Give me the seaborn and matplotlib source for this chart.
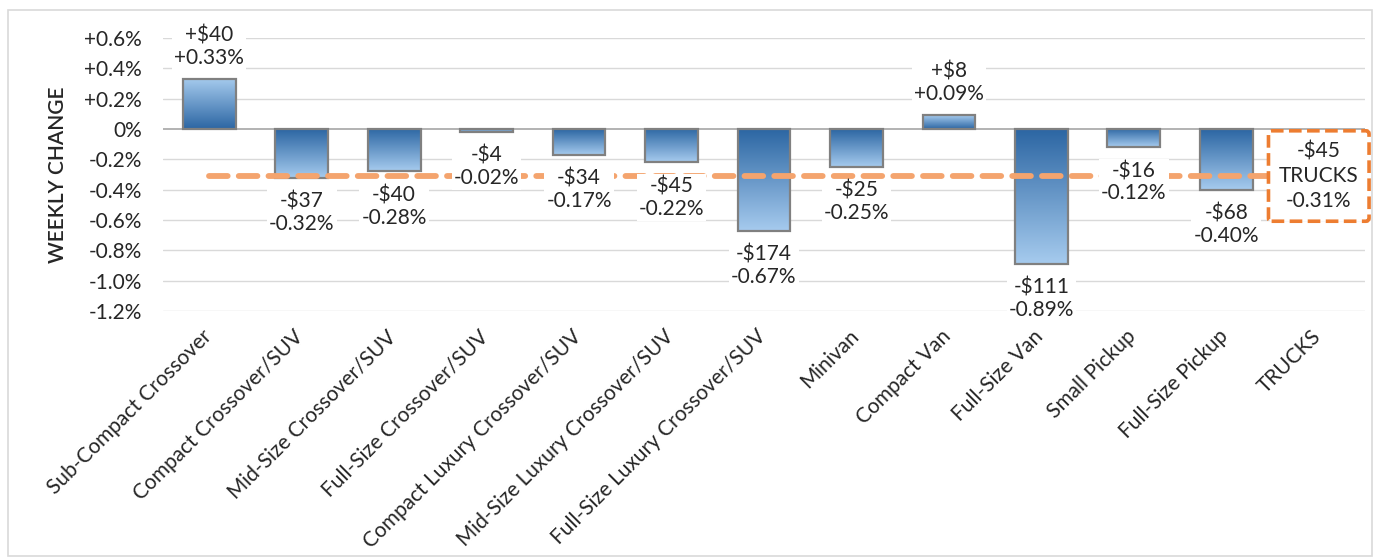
import matplotlib
matplotlib.use('Agg')
import matplotlib.pyplot as plt
import matplotlib.transforms as mtransforms
from matplotlib.colors import LinearSegmentedColormap
from matplotlib.patches import Rectangle
import numpy as np
import pandas as pd
import seaborn as sns

# Data
categories = ['Sub-Compact Crossover', 'Compact Crossover/SUV', 'Mid-Size Crossover/SUV',
              'Full-Size Crossover/SUV', 'Compact Luxury Crossover/SUV',
              'Mid-Size Luxury Crossover/SUV', 'Full-Size Luxury Crossover/SUV',
              'Minivan', 'Compact Van', 'Full-Size Van', 'Small Pickup', 'Full-Size Pickup',
              'TRUCKS']
pct_change = [0.33, -0.32, -0.28, -0.02, -0.17, -0.22, -0.67, -0.25, 0.09, -0.89, -0.12, -0.40]
dollar_change = [40, -37, -40, -4, -34, -45, -174, -25, 8, -111, -16, -68]
trucks_pct = -0.31
trucks_dollar = -45
yticks = [0.6, 0.4, 0.2, 0.0, -0.2, -0.4, -0.6, -0.8, -1.0, -1.2]

df = pd.DataFrame({'segment': categories[:-1], 'pct': pct_change})

sns.set_theme(style='white')
plt.rcParams['font.family'] = ['Lato', 'DejaVu Sans']
txt_color = '#262626'
fs = 15

fig = plt.figure(figsize=(13.8, 5.58), dpi=100)
ax = fig.add_axes([163 / 1380, 1 - 311 / 558, 1202 / 1380, 273 / 558])

sns.barplot(data=df, x='segment', y='pct', order=categories, ax=ax,
            width=0.57, color='#5B9BD5', edgecolor='#808080', linewidth=1.6, zorder=3)

# gradient fill: dark at the baseline, light at the bar end
cmap = LinearSegmentedColormap.from_list('bl', ['#2C66A3', '#A6CBEE'])
grad = np.linspace(0, 1, 256).reshape(-1, 1)
for p in list(ax.patches):
    x0, y0, w, h = p.get_x(), p.get_y(), p.get_width(), p.get_height()
    if np.isnan(h) or w == 0:
        continue
    top, bot = max(y0, y0 + h), min(y0, y0 + h)
    g = grad if h >= 0 else grad[::-1]
    im = ax.imshow(g, cmap=cmap, aspect='auto', origin='lower',
                   extent=[x0, x0 + w, bot, top], zorder=3.5)
    im.set_clip_path(p)
    p.set_facecolor('none')
    p.set_zorder(4)

ax.set_xlim(-0.5, len(categories) - 0.5)
ax.set_ylim(-1.2, 0.6)

# grid
for t in yticks:
    if t == 0:
        continue
    ax.axhline(t, color='#D9D9D9', lw=1.0, zorder=1)
ax.axhline(0, color='#A6A6A6', lw=1.2, zorder=2)

# average line
ax.plot([0, len(categories) - 1], [trucks_pct, trucks_pct], color='#F4A46E',
        lw=4.2, dashes=(3.2, 1.9), dash_capstyle='round', zorder=5)

# data labels
for i, (p, d) in enumerate(zip(pct_change, dollar_change)):
    sign = '+' if d > 0 else '-'
    psign = '+' if p > 0 else ''
    label = f'{sign}${abs(d)}\n{psign}{p:.2f}%'
    if p >= 0:
        ax.annotate(label, (i, p), xytext=(0, 8), textcoords='offset points',
                    ha='center', va='bottom', fontsize=fs, color=txt_color,
                    linespacing=1.15, zorder=6, annotation_clip=False,
                    bbox=dict(facecolor='white', edgecolor='none', pad=1.5))
    else:
        ax.annotate(label, (i, p), xytext=(0, -10), textcoords='offset points',
                    ha='center', va='top', fontsize=fs, color=txt_color,
                    linespacing=1.15, zorder=6, annotation_clip=False,
                    bbox=dict(facecolor='white', edgecolor='none', pad=1.5))

# TRUCKS box
ax.text(len(categories) - 1, trucks_pct, f'-${abs(trucks_dollar)}\nTRUCKS\n{trucks_pct:.2f}%',
        ha='center', va='center', fontsize=fs, color=txt_color, linespacing=1.3,
        zorder=7, clip_on=False,
        bbox=dict(boxstyle='round,pad=0.5,rounding_size=0.15', facecolor='white',
                  edgecolor='#ED7D31', linestyle=(0, (3.5, 1.5)), linewidth=2.6))

# axes styling
ax.set_yticks(yticks)
ax.set_yticklabels(['0%' if t == 0 else (f'+{t:.1f}%' if t > 0 else f'{t:.1f}%')
                    for t in yticks], fontsize=fs, color=txt_color)
ax.tick_params(axis='y', length=0, pad=15)
ax.tick_params(axis='x', length=0, pad=11)
ax.set_xticks(range(len(categories)))
ax.set_xticklabels(categories, rotation=45, ha='right', rotation_mode='anchor',
                   fontsize=fs, color=txt_color)
offset = mtransforms.ScaledTranslation(-8 / 100, 0, fig.dpi_scale_trans)
for lab in ax.get_xticklabels():
    lab.set_transform(lab.get_transform() + offset)
ax.set_xlabel('')
ax.set_ylabel('WEEKLY CHANGE', fontsize=fs, color=txt_color, fontweight='semibold')
ax.yaxis.set_label_coords(-0.079, 0.5)
for s in ax.spines.values():
    s.set_visible(False)
ax.grid(False)

# outer chart border
fig.patches.append(Rectangle((8 / 1380, 2 / 558), 1364 / 1380, 546 / 558,
                             transform=fig.transFigure, fill=False,
                             edgecolor='#D9D9D9', lw=1.2))

fig.savefig('out.png', dpi=100, facecolor='white')
